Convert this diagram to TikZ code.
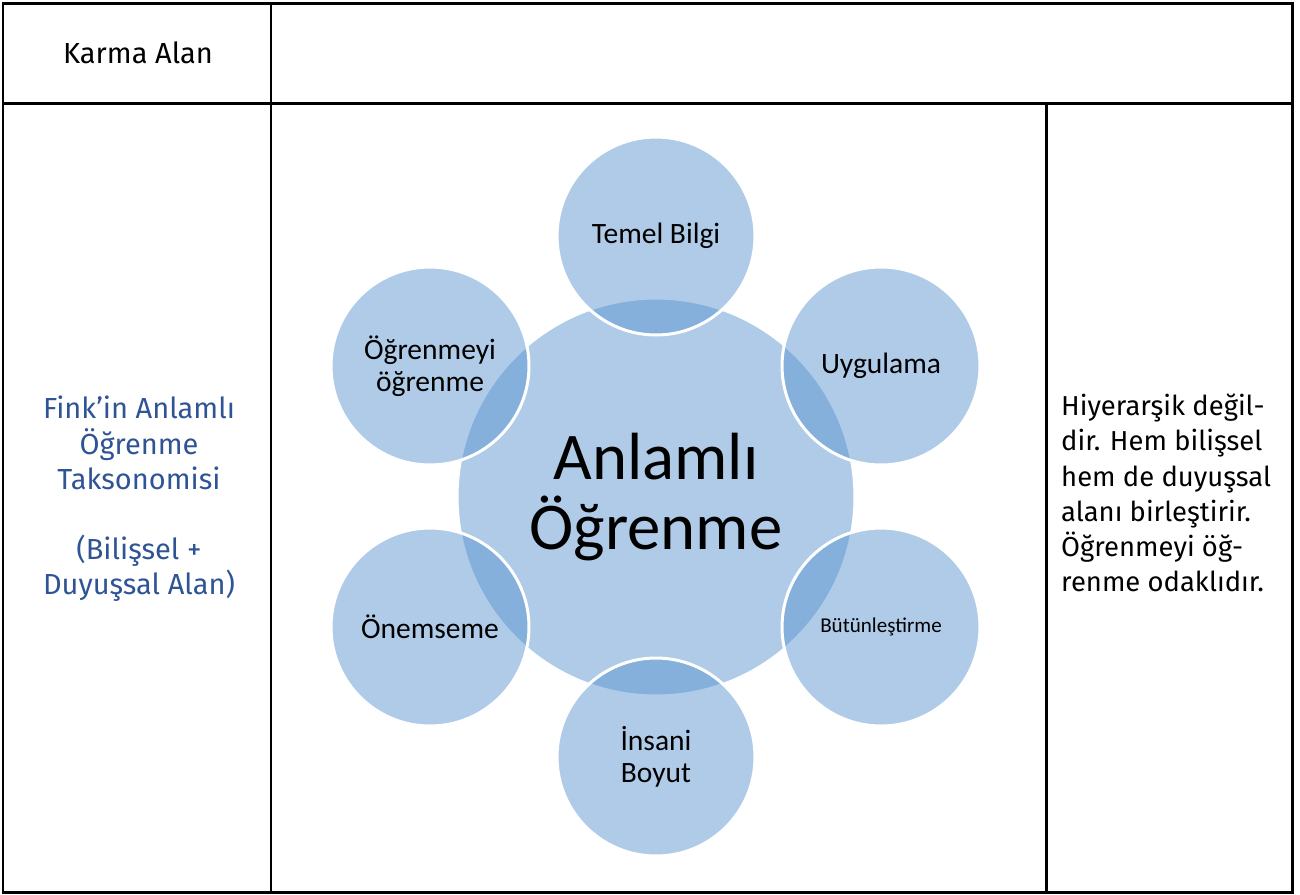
\documentclass[tikz,border=0pt]{standalone}
\usepackage{fontspec}
\setmainfont{Fira Sans}
\newfontfamily\calibri{Carlito}
\definecolor{bubblefill}{RGB}{87,146,207}
\definecolor{finkblue}{RGB}{47,84,150}
\tikzset{
    gridline/.style={line width=1.7pt, line cap=rect},
    bubble/.style={circle, inner sep=0pt, minimum size=3.96cm, fill=bubblefill,
        fill opacity=0.475, text opacity=1, draw=white, line width=1.7pt,
        align=center, font=\calibri\fontsize{16.8}{18.5}\selectfont},
    cell/.style={font=\fontsize{16.5}{20}\selectfont}
}
\begin{document}
\begin{tikzpicture}[x=0.02cm, y=-0.02cm]
        \useasboundingbox (0,0) rectangle (1300,894);
        % table frame
        \draw [gridline] (3,3) rectangle (1292,892);
        \draw [gridline] (3,103) -- (1292,103);
        \draw [gridline] (271,3) -- (271,892);
        \draw [gridline] (1046,103) -- (1046,892);
        % cell texts
        \node [cell] (karma) at (138,53) {Karma Alan};
        \node [cell, align=center, text=finkblue] (fink) at (139,499)
            {Fink’in Anlamlı\\Öğrenme\\Taksonomisi\\~\\(Bilişsel +\\Duyuşsal Alan)};
        \node [cell, align=left, anchor=west, font=\fontsize{15.6}{20}\selectfont] (aciklama) at (1055,493)
            {Hiyerarşik değil-\\dir. Hem bilişsel\\hem de duyuşsal\\alanı birleştirir.\\Öğrenmeyi öğ-\\renme odaklıdır.};
        % the bubbles
        \node [bubble, minimum size=7.96cm, font=\calibri\fontsize{38}{40}\selectfont] (anlamli) at (656,497) {Anlamlı\\Öğrenme};
        \node [bubble] (temel) at (656,236) {Temel Bilgi};
        \node [bubble] (uygulama) at (881,366) {Uygulama};
        \node [bubble, font=\calibri\fontsize{12}{14}\selectfont] (butun) at (881,627) {Bütünleştirme};
        \node [bubble] (insani) at (656,757) {İnsani\\Boyut};
        \node [bubble] (onemseme) at (430,627) {Önemseme};
        \node [bubble] (ogrenme) at (430,366) {Öğrenmeyi\\öğrenme};
    \end{tikzpicture}
\end{document}
